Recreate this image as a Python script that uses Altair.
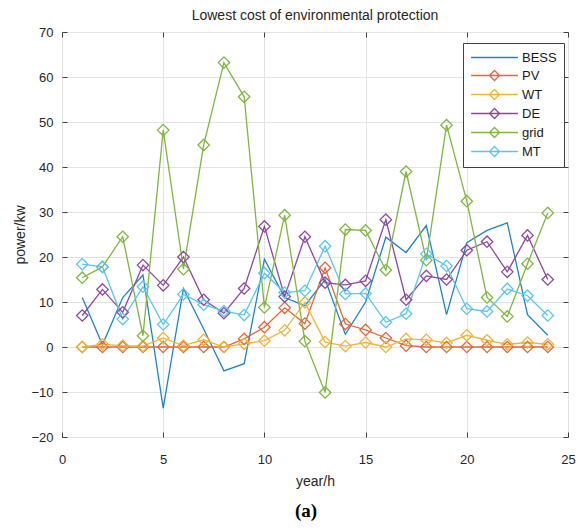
import altair as alt
import pandas as pd

# ---- data ----
hours = list(range(1, 25))
series_names = ["BESS", "PV", "WT", "DE", "grid", "MT"]
series_colors = ["#1f84c6", "#e0683a", "#f0b43a", "#8e46a0", "#80b540", "#5cc5ef"]

bess = [11, 0.5, 11, 16, -13.6, 13, 4, -5.3, -3.7, 19.5, 11, 9.2,
        15, 2.8, 10, 24.4, 21, 27, 7.2, 23.2, 25.9, 27.6, 7.2, 2.6]
pv = [0, 0, 0, 0, 0, 0, 0, 0, 1.8, 4.4, 8.7, 5.2,
      17.6, 5.1, 3.8, 2, 0.3, 0, 0, 0, 0, 0, 0, 0]
wt = [0, 0.6, 0.3, 0.2, 2, 0.3, 1.6, 0, 0.7, 1.4, 3.7, 9.9,
      1.1, 0.2, 1, 0, 1.8, 1.6, 0.9, 2.6, 1.5, 0.6, 1, 0.6]
de = [7, 12.8, 7.7, 18.2, 13.7, 20, 10.5, 7.5, 13, 26.8, 11.2, 24.5,
      14.3, 13.8, 14.7, 28.3, 10.5, 15.8, 15, 21.5, 23.4, 16.7, 24.8, 15]
grid = [15.4, 17.8, 24.5, 2.5, 48.2, 17.3, 44.9, 63.2, 55.6, 8.8, 29.3, 1.3,
        -10.1, 26.1, 25.9, 17.1, 39, 19.3, 49.3, 32.4, 11, 6.8, 18.5, 29.8]
mt = [18.4, 17.8, 6.2, 13.4, 5, 11.7, 9.4, 8, 7.1, 16.4, 12.1, 12.5,
      22.4, 11.8, 11.9, 5.5, 7.4, 20.7, 18, 8.5, 7.9, 12.9, 11.4, 7]

x_ticks = [0, 5, 10, 15, 20, 25]
y_ticks = [-20, -10, 0, 10, 20, 30, 40, 50, 60, 70]
chart_title = "Lowest cost of environmental protection"
x_title = "year/h"
y_title = "power/kw"
caption_text = "(a)"

# legend symbols (unit = sqrt(symbolSize)/2 px): a 47px line, with a hollow
# diamond in the middle for the marker series
line_path = "M-3.6,0L3.6,0"
line_diamond_path = "M-3.6,0L3.6,0M-0.77,0L0,-0.77L0.77,0L0,0.77Z"
legend_shapes = [line_path] + [line_diamond_path] * 5

series_values = [bess, pv, wt, de, grid, mt]
rows = []
for name, vals in zip(series_names, series_values):
    for h, v in zip(hours, vals):
        rows.append({"hour": h, "value": v, "series": name})
df = pd.DataFrame(rows)

FONT = "Liberation Sans"
TXT = "#262626"
AX = "#404040"

xscale = alt.Scale(domain=[0, 25], nice=False, zero=False)
yscale = alt.Scale(domain=[-20, 70], nice=False, zero=False)
color_scale = alt.Scale(domain=series_names, range=series_colors)

base = alt.Chart(df)

lines = base.mark_line(strokeWidth=1.3).encode(
    x=alt.X("hour:Q", scale=xscale, axis=alt.Axis(
        orient="bottom", values=x_ticks, offset=-5, tickSize=5, domain=False,
        grid=True, labelPadding=16, title=x_title, titlePadding=8,
        labelFlush=False)),
    y=alt.Y("value:Q", scale=yscale, axis=alt.Axis(
        orient="left", values=y_ticks, offset=-5, tickSize=5, domain=False,
        grid=True, labelPadding=9, title=y_title, titlePadding=3)),
    color=alt.Color("series:N", scale=color_scale, legend=None),
)

points = base.transform_filter(alt.datum.series != "BESS").mark_point(
    shape="diamond", filled=False, size=130, strokeWidth=1.3, opacity=1
).encode(
    x=alt.X("hour:Q", scale=xscale, axis=alt.Axis(
        orient="top", values=x_ticks, offset=-5, tickSize=5, domain=False,
        grid=False, labels=False, title=None)),
    y=alt.Y("value:Q", scale=yscale, axis=alt.Axis(
        orient="right", values=y_ticks, offset=-5, tickSize=5, domain=False,
        grid=False, labels=False, title=None)),
    color=alt.Color("series:N", scale=color_scale, legend=None),
)

legend_def = alt.Legend(
    title=None, orient="none", legendX=401, legendY=11,
    padding=7, rowPadding=2, symbolOffset=17, labelOffset=20,
    symbolSize=169, symbolStrokeWidth=1.3, symbolOpacity=1,
    labelFont=FONT, labelFontSize=13, labelColor="#1a1a1a",
    strokeColor=AX, fillColor="white", cornerRadius=0,
)

legend_layer = base.mark_point(filled=False, opacity=0, strokeWidth=1.3).encode(
    x=alt.X("hour:Q", scale=xscale, axis=None),
    y=alt.Y("value:Q", scale=yscale, axis=None),
    color=alt.Color("series:N", scale=color_scale, legend=legend_def),
    shape=alt.Shape("series:N", scale=alt.Scale(domain=series_names, range=legend_shapes),
                    legend=legend_def),
)

caption = alt.Chart(pd.DataFrame({"label": [caption_text]})).mark_text(
    font="Liberation Serif", fontSize=19, fontWeight="bold", color="black",
    baseline="middle", align="center"
).encode(
    x=alt.value(244), y=alt.value(479), text="label:N"
)

chart = alt.layer(lines, points, legend_layer, caption).resolve_legend(
    color="independent", shape="independent"
).properties(
    width=506, height=405,
    title=alt.TitleParams(chart_title, font=FONT, fontSize=14, fontWeight="normal",
                          color=TXT, offset=3, anchor="middle"),
    padding={"left": 54, "top": 24, "right": 8, "bottom": 85},
    autosize=alt.AutoSizeParams(type="none"),
).configure_view(
    stroke=AX, strokeWidth=1
).configure_axis(
    gridColor="#e3e3e3", gridWidth=1, tickColor=AX, tickWidth=1,
    labelColor=TXT, labelFont=FONT, labelFontSize=13,
    titleColor=TXT, titleFont=FONT, titleFontSize=14, titleFontWeight="normal",
)

chart.save("out.html", embed_options={"renderer": "svg", "actions": False})
